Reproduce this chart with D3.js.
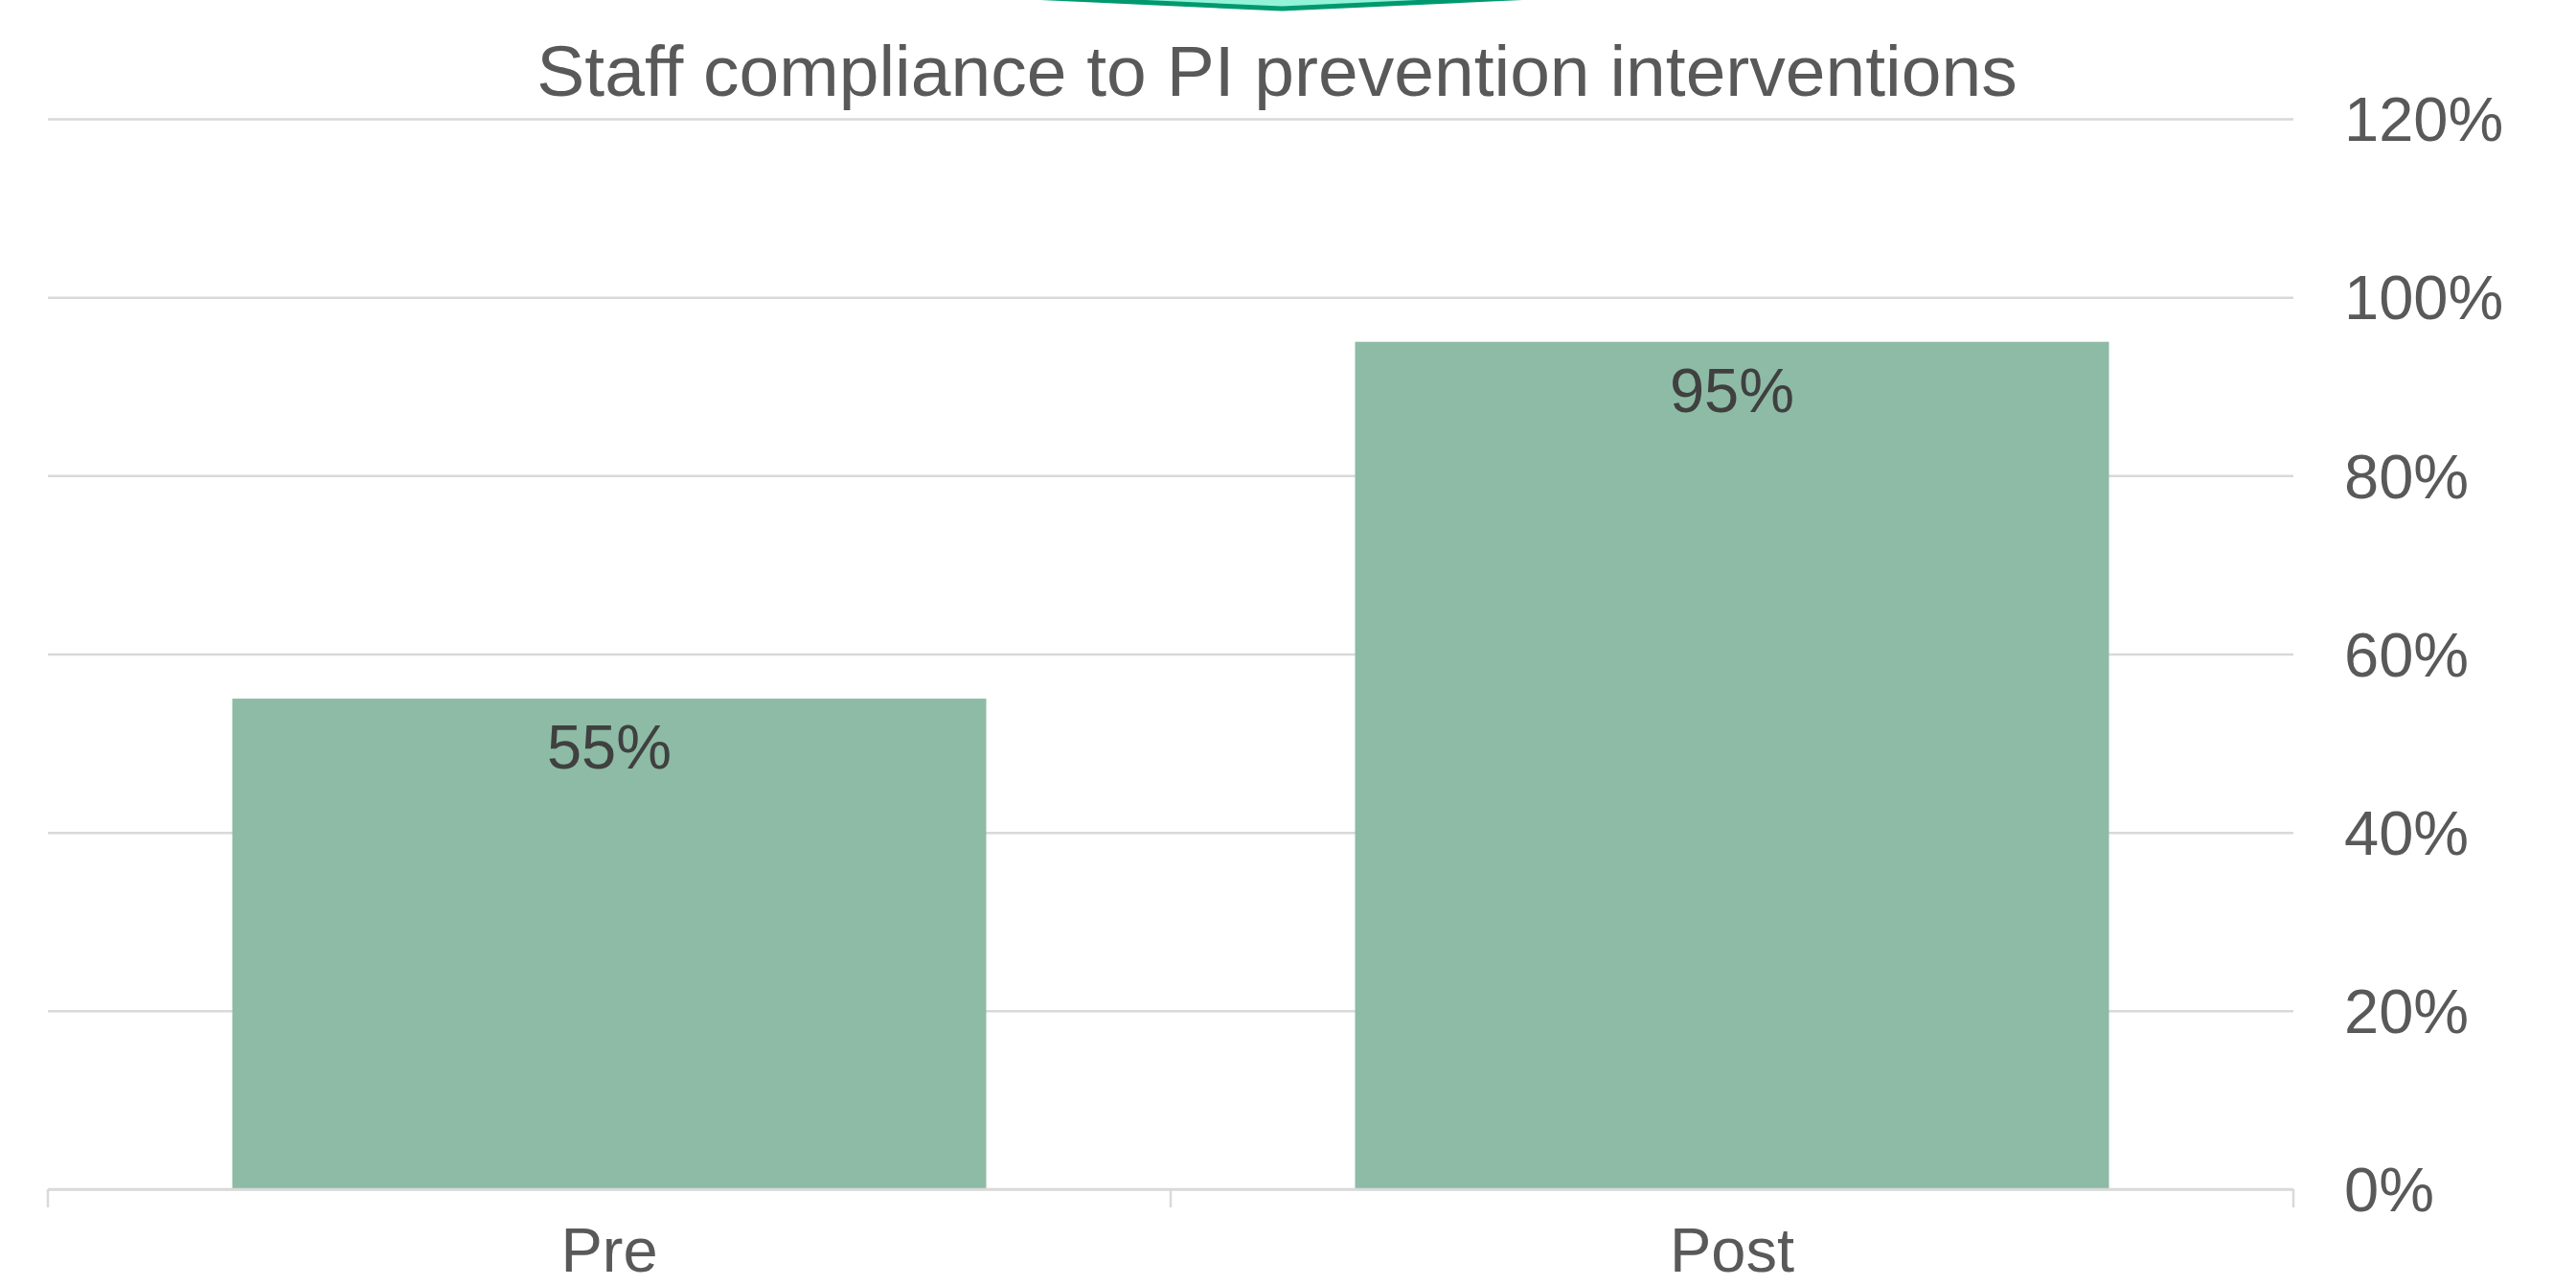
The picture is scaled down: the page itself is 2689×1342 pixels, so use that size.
<!DOCTYPE html>
<html>
<head>
<meta charset="utf-8">
<script src="https://cdn.jsdelivr.net/npm/d3@7"></script>
<style>
  html, body { margin: 0; padding: 0; background: #ffffff; }
  svg { display: block; }
  text { font-family: "Liberation Sans", Arial, sans-serif; }
</style>
</head>
<body>
<div id="chart"></div>
<script>
const categories = ["Pre", "Post"];
const values = [0.55, 0.95];
const yTicks = [0, 0.2, 0.4, 0.6, 0.8, 1.0, 1.2];
const title = "Staff compliance to PI prevention interventions";

const W = 2689, H = 1342;
const plot = { left: 50, right: 2394, top: 124, bottom: 1241 };

const svg = d3.select("#chart").append("svg")
  .attr("width", W).attr("height", H);

// decorative shape at the top
svg.append("polygon")
  .attr("points", "1075,-3 1600,-3 1338,9")
  .attr("fill", "#93f3d9")
  .attr("stroke", "#00996f")
  .attr("stroke-width", 5)
  .attr("stroke-linejoin", "round");

const x = d3.scaleBand().domain(categories).range([plot.left, plot.right]).padding(0);
const y = d3.scaleLinear().domain([0, 1.2]).range([plot.bottom, plot.top]);
const barFrac = 0.6715;

// gridlines
const yAxis = d3.axisRight(y).tickValues(yTicks)
  .tickSize(-(plot.right - plot.left))
  .tickPadding(53)
  .tickFormat(d3.format(".0%"));
const gy = svg.append("g").attr("transform", `translate(${plot.right},0)`).call(yAxis);
gy.select(".domain").remove();
gy.selectAll(".tick line").attr("stroke", "#d9d9d9").attr("stroke-width", 2.5);
gy.selectAll(".tick text")
  .attr("fill", "#595959").attr("font-size", 65)
  .attr("font-family", "'Liberation Sans', Arial, sans-serif")
  .attr("dy", "0.35em");

// bars
svg.append("g").selectAll("rect").data(categories).join("rect")
  .attr("x", (d) => x(d) + x.bandwidth() * (1 - barFrac) / 2)
  .attr("width", x.bandwidth() * barFrac)
  .attr("y", (d, i) => y(values[i]))
  .attr("height", (d, i) => y(0) - y(values[i]))
  .attr("fill", "#8dbba6");

// x axis
const xAxis = d3.axisBottom(x).tickSize(0).tickPadding(0).tickFormat(d => d);
const gx = svg.append("g").attr("transform", `translate(0,${plot.bottom})`).call(xAxis);
gx.select(".domain").attr("stroke", "#d9d9d9").attr("stroke-width", 2.5)
  .attr("d", `M${plot.left},0H${plot.right}`);
gx.selectAll(".tick text")
  .attr("fill", "#595959").attr("font-size", 65)
  .attr("font-family", "'Liberation Sans', Arial, sans-serif")
  .attr("dy", null).attr("y", 86);
// category boundary ticks
const boundaries = [plot.left].concat(categories.map(c => x(c) + x.bandwidth()));
gx.selectAll("line.bnd").data(boundaries).join("line")
  .attr("class", "bnd")
  .attr("x1", d => d).attr("x2", d => d)
  .attr("y1", 0).attr("y2", 19)
  .attr("stroke", "#d9d9d9").attr("stroke-width", 2.5);

// data labels
svg.append("g").selectAll("text").data(categories).join("text")
  .attr("x", d => x(d) + x.bandwidth() / 2)
  .attr("y", (d, i) => y(values[i]) + 73)
  .attr("text-anchor", "middle")
  .attr("fill", "#404040").attr("font-size", 65)
  .text((d, i) => d3.format(".0%")(values[i]));

// title
svg.append("text")
  .attr("x", 1333).attr("y", 100)
  .attr("text-anchor", "middle")
  .attr("fill", "#595959").attr("font-size", 75)
  .text(title);
</script>
</body>
</html>
